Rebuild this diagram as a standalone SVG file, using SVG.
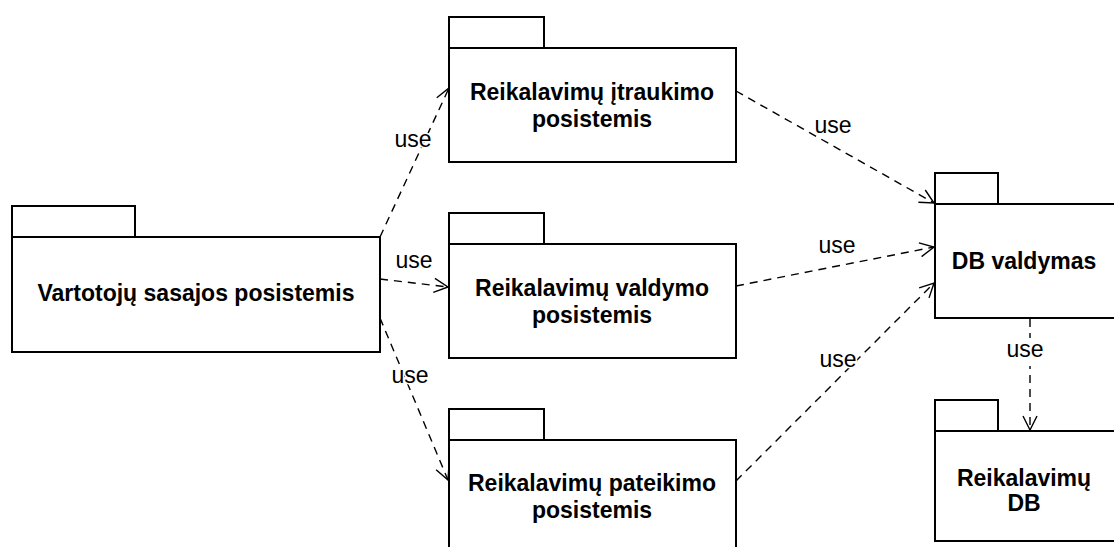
<svg xmlns="http://www.w3.org/2000/svg" width="1114" height="547" viewBox="0 0 1114 547">
  <style>
    .pkg { fill: #fff; stroke: #000; stroke-width: 2; }
    .name { font-family: "Liberation Sans", Arial, sans-serif; font-weight: bold; font-size: 23px; text-anchor: middle; fill: #000; }
    .dep { fill: none; stroke: #000; stroke-width: 1.4; stroke-dasharray: 8 6; }
    .lbl { font-family: "Liberation Sans", Arial, sans-serif; font-size: 23px; text-anchor: middle; fill: #000; stroke: #fff; stroke-width: 3; paint-order: stroke; }
  </style>
  <defs>
    <marker id="open" viewBox="0 0 16 16" refX="15" refY="8" markerWidth="16" markerHeight="16" markerUnits="userSpaceOnUse" orient="auto">
      <path d="M1,1 L15,8 L1,15" fill="none" stroke="#000" stroke-width="1.4"/>
    </marker>
  </defs>
  <rect width="1114" height="547" fill="#fff"/>

  <!-- dependency connectors -->
  <g id="connectors">
    <line class="dep" x1="380" y1="237" x2="449" y2="88" marker-end="url(#open)"/>
    <line class="dep" x1="380" y1="279" x2="448" y2="287" marker-end="url(#open)"/>
    <line class="dep" x1="380" y1="318" x2="448" y2="480" marker-end="url(#open)"/>
    <line class="dep" x1="736" y1="91" x2="934" y2="203" marker-end="url(#open)"/>
    <line class="dep" x1="736" y1="286" x2="934" y2="247" marker-end="url(#open)"/>
    <line class="dep" x1="736" y1="481" x2="934" y2="283" marker-end="url(#open)"/>
    <line class="dep" x1="1030" y1="319" x2="1030" y2="430" marker-end="url(#open)"/>
    <text class="lbl" x="413" y="147">use</text>
    <text class="lbl" x="414" y="268">use</text>
    <text class="lbl" x="410" y="383">use</text>
    <text class="lbl" x="833" y="133">use</text>
    <text class="lbl" x="837" y="253">use</text>
    <text class="lbl" x="838" y="367">use</text>
    <rect x="1006" y="338" width="38" height="28" fill="#fff"/>
    <text class="lbl" x="1025" y="357">use</text>
  </g>

  <g id="vartotoju">
    <rect class="pkg" x="12" y="206" width="123" height="31"/>
    <rect class="pkg" x="12" y="237" width="368" height="115"/>
    <text class="name" x="196" y="301">Vartotojų sasajos posistemis</text>
  </g>

  <g id="itraukimo">
    <rect class="pkg" x="449" y="17" width="95" height="31"/>
    <rect class="pkg" x="449" y="48" width="287" height="114"/>
    <text class="name" x="592" y="100">Reikalavimų įtraukimo</text>
    <text class="name" x="592" y="127">posistemis</text>
  </g>

  <g id="valdymo">
    <rect class="pkg" x="449" y="213" width="95" height="31"/>
    <rect class="pkg" x="449" y="244" width="287" height="114"/>
    <text class="name" x="592" y="296">Reikalavimų valdymo</text>
    <text class="name" x="592" y="323">posistemis</text>
  </g>

  <g id="pateikimo">
    <rect class="pkg" x="449" y="409" width="95" height="31"/>
    <rect class="pkg" x="449" y="440" width="287" height="114"/>
    <text class="name" x="592" y="491">Reikalavimų pateikimo</text>
    <text class="name" x="592" y="518">posistemis</text>
  </g>

  <g id="db-valdymas">
    <rect class="pkg" x="935" y="173" width="63" height="31"/>
    <rect class="pkg" x="935" y="204" width="180" height="114"/>
    <text class="name" x="1024" y="269">DB valdymas</text>
  </g>

  <g id="reikalavimu-db">
    <rect class="pkg" x="935" y="400" width="63" height="31"/>
    <rect class="pkg" x="935" y="431" width="180" height="110"/>
    <text class="name" x="1024" y="486">Reikalavimų</text>
    <text class="name" x="1024" y="511">DB</text>
  </g>
</svg>
